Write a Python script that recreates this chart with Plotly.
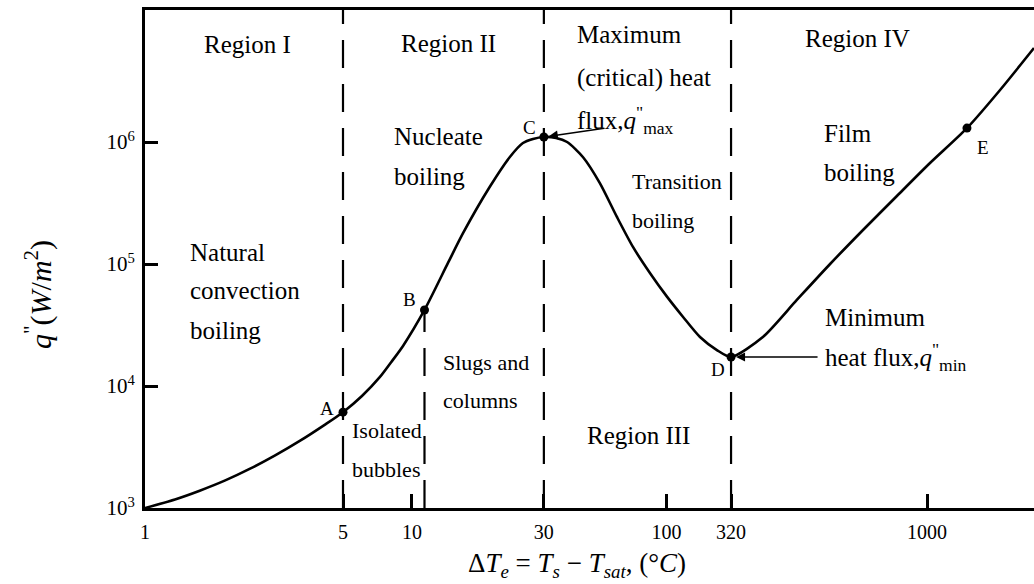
import numpy as np
import plotly.graph_objects as go

# ---------------- data ----------------
# Boiling curve: excess temperature dT_e (deg C) and heat flux q" (W/m^2)
DT = [1, 1.276, 1.56, 1.92, 2.35, 2.88, 3.53, 4.32, 5, 6.05, 7.25, 8.18, 9.14, 11.1,
      13.5, 15.3, 19.1, 22.6, 25.2, 27.4, 30,
      33.8, 37.7, 44.1, 52.0, 61.5, 72.0, 85.2, 101, 135, 183, 248, 320,
      385, 469, 569, 689, 839, 1026, 1422, 1905, 2570]
Q = [1000, 1175, 1386, 1683, 2100, 2700, 3565, 4830, 6100, 8280, 11860, 16000, 21300, 42000,
     102000, 179000, 428000, 754000, 982000, 1060000, 1100000,
     1080000, 1000000, 750000, 460000, 243000, 138000, 84000, 54000, 36800, 25200, 19700, 17300,
     25200, 50700, 100000, 190000, 361000, 673000, 1300000, 2670000, 5890000]

POINT_LABELS = ["A", "B", "C", "D", "E"]
POINT_DT = [5, 11.1, 30, 320, 1422]
POINT_Q = [6100, 42000, 1100000, 17300, 1300000]

# dashed region boundaries: x position and vertical extent (W/m^2)
BOUNDARY_DT = [5, 11.1, 30, 320]
BOUNDARY_Q_LOW = [1e3, 1e3, 1e3, 1e3]
BOUNDARY_Q_HIGH = [None, 42000, None, None]   # None -> up to the top of the frame

X_TICK_VALUES = [1, 5, 10, 30, 100, 320, 1000]
X_TICK_TEXT = ["1", "5", "10", "30", "100", "320", "1000"]
Y_TICK_VALUES = [1e3, 1e4, 1e5, 1e6]
Y_TICK_TEXT = ["10<sup>3</sup>", "10<sup>4</sup>", "10<sup>5</sup>", "10<sup>6</sup>"]

# schematic (non-uniform) position of each x tick along the axis, in decades
AXIS_POS = [0.0, 0.7595, 1.024, 1.530, 2.0, 2.248, 3.0]


def to_axis(v):
    lv = np.log10(np.asarray(v, dtype=float))
    lt = np.log10(X_TICK_VALUES)
    out = np.interp(lv, lt, AXIS_POS)
    hi = lv > lt[-1]
    out[hi] = AXIS_POS[-1] + (lv[hi] - lt[-1])
    return out


# plot-area geometry (pixels) for placing free text
W, H = 1034, 584
L, R, T, B = 145, 0, 10, 76
PW, PH = W - L - R, H - T - B


def px(x, y):
    return (x - L) / PW, (H - B - y) / PH


FONT = "Liberation Serif"
Y_TOP = 7.082

fig = go.Figure()

# dashed boundaries
for dt, q0, q1 in zip(BOUNDARY_DT, BOUNDARY_Q_LOW, BOUNDARY_Q_HIGH):
    xx = to_axis([dt, dt])
    top = 10 ** Y_TOP if q1 is None else q1
    fig.add_trace(go.Scatter(x=xx, y=[q0, top], mode="lines",
                             line=dict(color="black", width=2.2, dash="28px,16px"),
                             hoverinfo="skip", showlegend=False))

# boiling curve
fig.add_trace(go.Scatter(x=to_axis(DT), y=Q, mode="lines",
                         line=dict(color="black", width=2.6, shape="spline", smoothing=0.7),
                         showlegend=False))

# key points
fig.add_trace(go.Scatter(x=to_axis(POINT_DT), y=POINT_Q, mode="markers",
                         marker=dict(color="black", size=9), showlegend=False))

label_shift = {"A": (-16, 4), "B": (-15, 10), "C": (-14, 9), "D": (-13, -13), "E": (16, -19)}
for lab, dt, q in zip(POINT_LABELS, POINT_DT, POINT_Q):
    dx, dy = label_shift[lab]
    fig.add_annotation(x=float(to_axis([dt])[0]), y=np.log10(q), text=lab, showarrow=False,
                       xshift=dx, yshift=dy, xanchor="center", yanchor="middle",
                       font=dict(family=FONT, size=19, color="black"))

# arrows to C and D
fig.add_annotation(x=float(to_axis([30])[0]), y=np.log10(1100000), ax=62, ay=-9, text="",
                   showarrow=True, arrowhead=2, arrowsize=1.2, arrowwidth=1.5,
                   arrowcolor="black", standoff=5)
fig.add_annotation(x=float(to_axis([320])[0]), y=np.log10(17300), ax=88, ay=0, text="",
                   showarrow=True, arrowhead=2, arrowsize=1.2, arrowwidth=1.5,
                   arrowcolor="black", standoff=5)

texts = [
    ("Region I", 247, 45, 25, "center"),
    ("Region II", 448, 44, 25, "center"),
    ("Maximum", 575, 35, 25, "left"),
    ("(critical) heat", 575, 78, 25, "left"),
    ("flux,<i>q</i><sup>\"</sup><sub>max</sub>", 575, 120, 25, "left"),
    ("Nucleate", 392, 137, 25, "left"),
    ("boiling", 392, 177, 25, "left"),
    ("Natural", 188, 252, 25, "left"),
    ("convection", 188, 290, 25, "left"),
    ("boiling", 188, 330, 25, "left"),
    ("Isolated", 350, 430, 22, "left"),
    ("bubbles", 350, 470, 22, "left"),
    ("Slugs and", 441, 362, 22, "left"),
    ("columns", 441, 400, 22, "left"),
    ("Region III", 585, 435, 25, "left"),
    ("Transition", 630, 182, 22, "left"),
    ("boiling", 630, 220, 22, "left"),
    ("Region IV", 803, 38, 25, "left"),
    ("Film", 822, 133, 25, "left"),
    ("boiling", 822, 172, 25, "left"),
    ("Minimum", 823, 317, 25, "left"),
    ("heat flux,<i>q</i><sup>\"</sup><sub>min</sub>", 823, 357, 25, "left"),
]
for t, x, y, s, anc in texts:
    xp, yp = px(x, y)
    fig.add_annotation(x=xp, y=yp, xref="paper", yref="paper", text=t, showarrow=False,
                       xanchor=anc, yanchor="middle",
                       font=dict(family=FONT, size=s, color="black"))

# axis titles
xp, yp = px(577, 565)
fig.add_annotation(x=xp, y=yp, xref="paper", yref="paper", showarrow=False,
                   xanchor="center", yanchor="middle",
                   text="Δ<i>T<sub>e</sub></i> = <i>T<sub>s</sub></i> − <i>T<sub>sat</sub></i>, (°<i>C</i>)",
                   font=dict(family=FONT, size=27, color="black"))
xp, yp = px(38, 295)
fig.add_annotation(x=xp, y=yp, xref="paper", yref="paper", showarrow=False, textangle=-90,
                   xanchor="center", yanchor="middle",
                   text="<i>q</i><sup>\"</sup>(<i>W</i>/<i>m</i><sup>2</sup>)",
                   font=dict(family=FONT, size=30, color="black"))

fig.update_layout(
    width=W, height=H, margin=dict(l=L, r=R, t=T, b=B),
    paper_bgcolor="white", plot_bgcolor="white",
    xaxis=dict(range=[0, PW / 260.7], type="linear", showgrid=False, zeroline=False,
               showline=True, linecolor="black", linewidth=3, mirror=True,
               tickmode="array", tickvals=to_axis(X_TICK_VALUES), ticktext=X_TICK_TEXT,
               ticks="inside", ticklen=14, tickwidth=3, tickcolor="black",
               ticklabelstandoff=4,
               tickfont=dict(family=FONT, size=20, color="black")),
    yaxis=dict(type="log", range=[3, Y_TOP], showgrid=False, zeroline=False,
               showline=True, linecolor="black", linewidth=3, mirror=False,
               tickmode="array", tickvals=Y_TICK_VALUES, ticktext=Y_TICK_TEXT,
               ticks="inside", ticklen=13, tickwidth=3, tickcolor="black",
               ticklabelstandoff=3,
               tickfont=dict(family=FONT, size=21, color="black")),
)

fig.write_html("out.html")
